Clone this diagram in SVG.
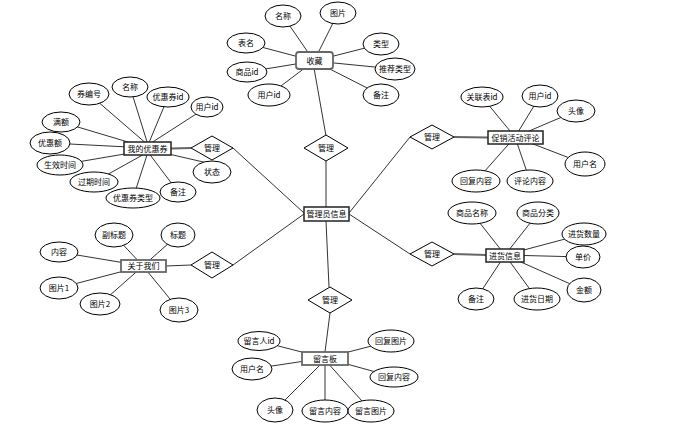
<svg xmlns="http://www.w3.org/2000/svg" width="685" height="435" viewBox="0 0 685 435">
<style>
text{font-family:"Noto Sans CJK SC","Noto Sans",sans-serif;font-size:8px;fill:#000;text-anchor:middle}
.a ellipse{fill:#fff;stroke:#000;stroke-width:1}
.e rect{fill:#fff;stroke:#222;stroke-width:1.5}
.eg rect{fill:#fff;stroke:#666;stroke-width:1.8}
.r polygon{fill:#fff;stroke:#000;stroke-width:1}
#connectors line{stroke:#333;stroke-width:1}
#connectors line.t{stroke:#666;stroke-width:2.2}
</style>
<rect width="685" height="435" fill="#fff"/>
<g id="connectors">
<!-- 收藏 -->
<line x1="314" y1="61" x2="283" y2="16"/><line x1="314" y1="61" x2="338" y2="13"/>
<line x1="314" y1="61" x2="246" y2="43"/><line x1="314" y1="61" x2="247" y2="72"/>
<line x1="314" y1="61" x2="269" y2="95"/><line x1="314" y1="61" x2="381" y2="44"/>
<line x1="314" y1="61" x2="395" y2="69"/><line x1="314" y1="61" x2="381" y2="95"/>
<line x1="314" y1="68" x2="326" y2="136"/>
<!-- 我的优惠券 -->
<line x1="148" y1="145" x2="89" y2="94"/><line x1="148" y1="145" x2="130" y2="87"/>
<line x1="148" y1="145" x2="168" y2="97"/><line x1="148" y1="145" x2="207" y2="107"/>
<line x1="148" y1="148" x2="61" y2="122"/><line x1="148" y1="148" x2="50" y2="143"/>
<line x1="148" y1="150" x2="60" y2="165"/><line x1="148" y1="152" x2="94" y2="182"/>
<line x1="148" y1="152" x2="133" y2="198"/><line x1="148" y1="152" x2="178" y2="192"/>
<line x1="160" y1="152" x2="212" y2="164"/>
<line class="t" x1="171" y1="148.5" x2="191" y2="148"/>
<!-- 促销活动评论 -->
<line x1="515" y1="137" x2="482" y2="97"/><line x1="515" y1="137" x2="540" y2="96"/>
<line x1="515" y1="137" x2="576" y2="111"/><line x1="515" y1="137" x2="585" y2="164"/>
<line x1="515" y1="137" x2="530" y2="181"/><line x1="515" y1="137" x2="476" y2="181"/>
<line class="t" x1="454" y1="137" x2="488" y2="137.5"/>
<!-- 进货信息 -->
<line x1="505" y1="255" x2="472" y2="213"/><line x1="505" y1="255" x2="538" y2="213"/>
<line x1="505" y1="255" x2="584" y2="234"/><line x1="505" y1="255" x2="583" y2="257"/>
<line x1="505" y1="255" x2="584" y2="290"/><line x1="505" y1="255" x2="537" y2="299"/>
<line x1="505" y1="255" x2="476" y2="299"/>
<line class="t" x1="454" y1="254" x2="486" y2="255"/>
<!-- 关于我们 -->
<line x1="143" y1="266" x2="114" y2="235"/><line x1="143" y1="266" x2="178" y2="235"/>
<line x1="143" y1="266" x2="59" y2="252"/><line x1="143" y1="266" x2="59" y2="288"/>
<line x1="143" y1="266" x2="100" y2="304"/><line x1="143" y1="266" x2="179" y2="310"/>
<line x1="166" y1="266" x2="191" y2="265"/>
<!-- 留言板 -->
<line x1="325" y1="358" x2="259" y2="341"/><line x1="325" y1="358" x2="252" y2="369"/>
<line x1="325" y1="360" x2="275" y2="410"/><line x1="325" y1="360" x2="325" y2="411"/>
<line x1="325" y1="360" x2="371" y2="411"/><line x1="325" y1="358" x2="391" y2="341"/>
<line x1="325" y1="358" x2="394" y2="377"/>
<line x1="330" y1="313" x2="325" y2="352"/>
<!-- 管理员信息 -->
<line x1="326" y1="207" x2="326" y2="161"/>
<line x1="304" y1="213" x2="233" y2="148"/>
<line x1="304" y1="214" x2="233" y2="265"/>
<line x1="349" y1="213" x2="410" y2="137"/>
<line x1="349" y1="214" x2="410" y2="254"/>
<line x1="326" y1="221" x2="329" y2="287"/>
</g>

<g id="shoucang" class="eg"><rect x="296" y="52" width="37" height="17" rx="3"/><text x="314.5" y="63.5">收藏</text></g>
<g id="shoucang-attrs" class="a">
<g id="sc-mc"><ellipse cx="283" cy="16" rx="18" ry="11"/><text x="283" y="19">名称</text></g>
<g id="sc-tp"><ellipse cx="338" cy="13" rx="18" ry="11"/><text x="338" y="16">图片</text></g>
<g id="sc-bm"><ellipse cx="246" cy="43" rx="19" ry="10"/><text x="246" y="46">表名</text></g>
<g id="sc-spid"><ellipse cx="247" cy="72" rx="20" ry="10"/><text x="247" y="75">商品id</text></g>
<g id="sc-yhid"><ellipse cx="269" cy="95" rx="21" ry="11"/><text x="269" y="98">用户id</text></g>
<g id="sc-lx"><ellipse cx="381" cy="44" rx="18" ry="11"/><text x="381" y="47">类型</text></g>
<g id="sc-tjlx"><ellipse cx="395" cy="69" rx="20" ry="11"/><text x="395" y="72">推荐类型</text></g>
<g id="sc-bz"><ellipse cx="381" cy="95" rx="18" ry="11"/><text x="381" y="98">备注</text></g>
</g>

<g id="youhuiquan" class="e"><rect x="124" y="142" width="47" height="13"/><text x="147.5" y="151.5">我的优惠券</text></g>
<g id="youhuiquan-attrs" class="a">
<g id="yh-qbh"><ellipse cx="89" cy="94" rx="20" ry="11"/><text x="89" y="97">券编号</text></g>
<g id="yh-mc"><ellipse cx="130" cy="87" rx="18" ry="10"/><text x="130" y="90">名称</text></g>
<g id="yh-yhqid"><ellipse cx="168" cy="97" rx="21" ry="10"/><text x="168" y="100">优惠券id</text></g>
<g id="yh-yhid"><ellipse cx="207" cy="107" rx="16" ry="10"/><text x="207" y="110">用户id</text></g>
<g id="yh-me"><ellipse cx="61" cy="122" rx="19" ry="10"/><text x="61" y="125">满额</text></g>
<g id="yh-yhe"><ellipse cx="50" cy="143" rx="20" ry="11"/><text x="50" y="146">优惠额</text></g>
<g id="yh-sxsj"><ellipse cx="60" cy="165" rx="23" ry="10"/><text x="60" y="168">生效时间</text></g>
<g id="yh-gqsj"><ellipse cx="94" cy="182" rx="24" ry="10"/><text x="94" y="185">过期时间</text></g>
<g id="yh-yhqlx"><ellipse cx="133" cy="198" rx="27" ry="10"/><text x="133" y="201">优惠券类型</text></g>
<g id="yh-bz"><ellipse cx="178" cy="192" rx="18" ry="10"/><text x="178" y="195">备注</text></g>
</g>
<g id="rel-youhuiquan" class="r"><polygon points="191,148 212,136 233,148 212,160"/><text x="212" y="151">管理</text></g>
<g id="yh-zt" class="a"><ellipse cx="212" cy="172" rx="19" ry="11"/><text x="212" y="175">状态</text></g>

<g id="cuxiao" class="e"><rect x="488" y="131" width="55" height="13"/><text x="515.5" y="140.5">促销活动评论</text></g>
<g id="cuxiao-attrs" class="a">
<g id="cx-glbid"><ellipse cx="482" cy="97" rx="21" ry="10"/><text x="482" y="100">关联表id</text></g>
<g id="cx-yhid"><ellipse cx="540" cy="96" rx="18" ry="11"/><text x="540" y="99">用户id</text></g>
<g id="cx-tx"><ellipse cx="576" cy="111" rx="19" ry="11"/><text x="576" y="114">头像</text></g>
<g id="cx-yhm"><ellipse cx="585" cy="164" rx="20" ry="12"/><text x="585" y="167">用户名</text></g>
<g id="cx-plnr"><ellipse cx="530" cy="181" rx="23" ry="11"/><text x="530" y="184">评论内容</text></g>
<g id="cx-hfnr"><ellipse cx="476" cy="181" rx="24" ry="11"/><text x="476" y="184">回复内容</text></g>
</g>
<g id="rel-cuxiao" class="r"><polygon points="410,137 432,125 454,137 432,149"/><text x="432" y="140">管理</text></g>

<g id="jinhuo" class="e"><rect x="486" y="249" width="38" height="13"/><text x="505" y="258.5">进货信息</text></g>
<g id="jinhuo-attrs" class="a">
<g id="jh-spmc"><ellipse cx="472" cy="213" rx="24" ry="11"/><text x="472" y="216">商品名称</text></g>
<g id="jh-spfl"><ellipse cx="538" cy="213" rx="21" ry="11"/><text x="538" y="216">商品分类</text></g>
<g id="jh-jhsl"><ellipse cx="584" cy="234" rx="22" ry="11"/><text x="584" y="237">进货数量</text></g>
<g id="jh-dj"><ellipse cx="583" cy="257" rx="17" ry="11"/><text x="583" y="260">单价</text></g>
<g id="jh-je"><ellipse cx="584" cy="290" rx="17" ry="12"/><text x="584" y="293">金额</text></g>
<g id="jh-jhrq"><ellipse cx="537" cy="299" rx="23" ry="11"/><text x="537" y="302">进货日期</text></g>
<g id="jh-bz"><ellipse cx="476" cy="299" rx="18" ry="11"/><text x="476" y="302">备注</text></g>
</g>
<g id="rel-jinhuo" class="r"><polygon points="410,254 432,242 454,254 432,266"/><text x="432" y="257">管理</text></g>

<g id="guanyu" class="eg"><rect x="121" y="260" width="45" height="12"/><text x="143.5" y="269">关于我们</text></g>
<g id="guanyu-attrs" class="a">
<g id="gy-fbt"><ellipse cx="114" cy="235" rx="19" ry="12"/><text x="114" y="238">副标题</text></g>
<g id="gy-bt"><ellipse cx="178" cy="235" rx="17" ry="12"/><text x="178" y="238">标题</text></g>
<g id="gy-nr"><ellipse cx="59" cy="252" rx="19" ry="10"/><text x="59" y="255">内容</text></g>
<g id="gy-tp1"><ellipse cx="59" cy="288" rx="19" ry="11"/><text x="59" y="291">图片1</text></g>
<g id="gy-tp2"><ellipse cx="100" cy="304" rx="20" ry="11"/><text x="100" y="307">图片2</text></g>
<g id="gy-tp3"><ellipse cx="179" cy="310" rx="19" ry="12"/><text x="179" y="313">图片3</text></g>
</g>
<g id="rel-guanyu" class="r"><polygon points="191,265 212,252 233,265 212,278"/><text x="212" y="268">管理</text></g>

<g id="liuyan" class="eg"><rect x="302" y="352" width="46" height="13"/><text x="325" y="361.5">留言板</text></g>
<g id="liuyan-attrs" class="a">
<g id="ly-lyrid"><ellipse cx="259" cy="341" rx="21" ry="9.5"/><text x="259" y="344">留言人id</text></g>
<g id="ly-yhm"><ellipse cx="252" cy="369" rx="20" ry="11"/><text x="252" y="372">用户名</text></g>
<g id="ly-tx"><ellipse cx="275" cy="410" rx="18" ry="12"/><text x="275" y="413">头像</text></g>
<g id="ly-lynr"><ellipse cx="325" cy="411" rx="23" ry="11"/><text x="325" y="414">留言内容</text></g>
<g id="ly-lytp"><ellipse cx="371" cy="411" rx="23" ry="11"/><text x="371" y="414">留言图片</text></g>
<g id="ly-hftp"><ellipse cx="391" cy="341" rx="23" ry="11"/><text x="391" y="344">回复图片</text></g>
<g id="ly-hfnr"><ellipse cx="394" cy="377" rx="24" ry="10"/><text x="394" y="380">回复内容</text></g>
</g>
<g id="rel-liuyan" class="r"><polygon points="308,300 330,287 352,300 330,313"/><text x="330" y="303">管理</text></g>

<g id="rel-shoucang" class="r"><polygon points="304,148 326,135 348,148 326,161"/><text x="326" y="151">管理</text></g>

<g id="admin" class="e"><rect x="304" y="207" width="45" height="14"/><text x="326.5" y="217">管理员信息</text></g>
</svg>
